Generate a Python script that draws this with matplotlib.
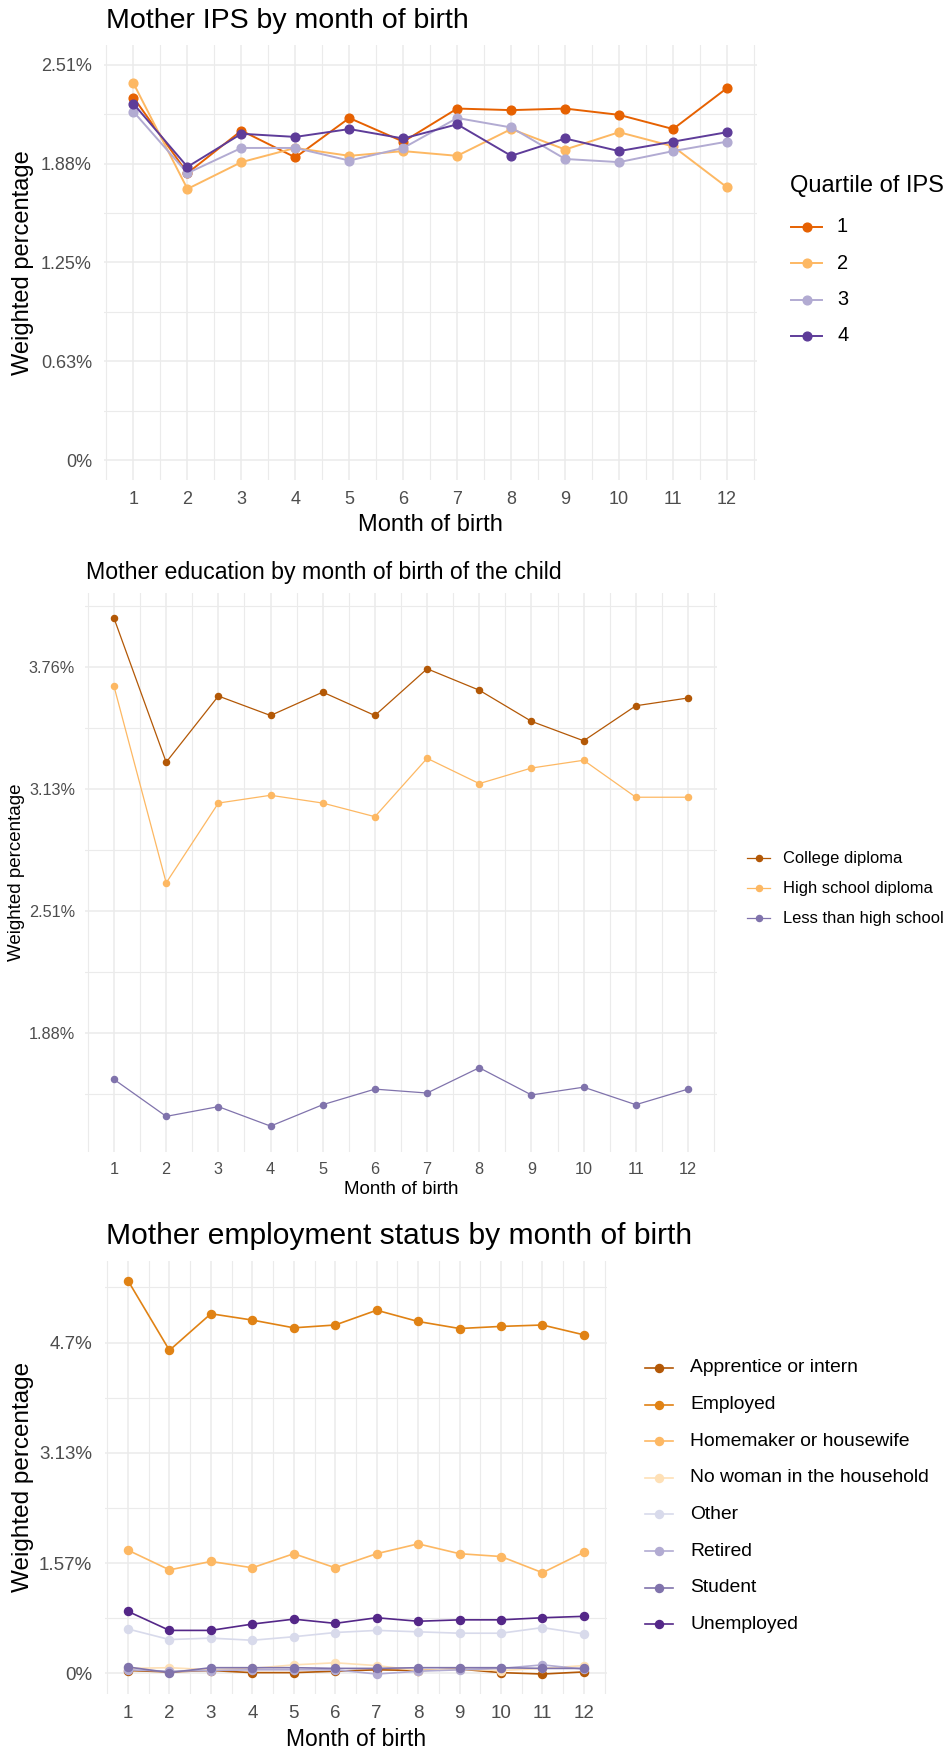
import matplotlib
matplotlib.use("Agg")
import matplotlib.pyplot as plt
from matplotlib.lines import Line2D

plt.rcParams['font.family'] = ['Liberation Sans', 'DejaVu Sans']

W, H = 944, 1751
DPI = 100

months = list(range(1, 13))
month_labels = [str(m) for m in months]

# ---- Mother IPS (quartiles) ----
ips_groups = ["1", "2", "3", "4"]
ips_colors = ["#E66101", "#FDB863", "#B2ABD2", "#5E3C99"]
ips_q1 = [2.30, 1.82, 2.09, 1.92, 2.17, 2.02, 2.23, 2.22, 2.23, 2.19, 2.10, 2.36]
ips_q2 = [2.39, 1.72, 1.89, 1.98, 1.93, 1.96, 1.93, 2.10, 1.97, 2.08, 1.99, 1.73]
ips_q3 = [2.21, 1.82, 1.98, 1.98, 1.90, 1.98, 2.17, 2.11, 1.91, 1.89, 1.96, 2.02]
ips_q4 = [2.26, 1.86, 2.07, 2.05, 2.10, 2.04, 2.13, 1.93, 2.04, 1.96, 2.02, 2.08]
ips_breaks = [0.0, 0.6268, 1.2536, 1.8804, 2.5072]
ips_break_labels = ["0%", "0.63%", "1.25%", "1.88%", "2.51%"]

# ---- Mother education ----
edu_groups = ["College diploma", "High school diploma", "Less than high school"]
edu_colors = ["#B35806", "#FDB863", "#8073AC"]
edu_college = [4.01, 3.27, 3.61, 3.51, 3.63, 3.51, 3.75, 3.64, 3.48, 3.38, 3.56, 3.60]
edu_high_school = [3.66, 2.65, 3.06, 3.10, 3.06, 2.99, 3.29, 3.16, 3.24, 3.28, 3.09, 3.09]
edu_less = [1.64, 1.45, 1.50, 1.40, 1.51, 1.59, 1.57, 1.70, 1.56, 1.60, 1.51, 1.59]
edu_breaks = [1.2536, 1.8804, 2.5072, 3.134, 3.7608]
edu_break_labels = ["1.25%", "1.88%", "2.51%", "3.13%", "3.76%"]

# ---- Mother employment status ----
emp_groups = ["Apprentice or intern", "Employed", "Homemaker or housewife",
              "No woman in the household", "Other", "Retired", "Student",
              "Unemployed"]
emp_colors = ["#B35806", "#E08214", "#FDB863", "#FEE0B6", "#D8DAEB",
              "#B2ABD2", "#8073AC", "#542788"]
emp_apprentice = [0.04, 0.02, 0.04, 0.01, 0.01, 0.03, 0.05, 0.04, 0.06, 0.01, -0.01, 0.02]
emp_employed = [5.58, 4.59, 5.11, 5.02, 4.91, 4.95, 5.16, 5.00, 4.90, 4.93, 4.95, 4.81]
emp_homemaker = [1.75, 1.47, 1.59, 1.50, 1.70, 1.50, 1.70, 1.84, 1.70, 1.66, 1.43, 1.72]
emp_no_woman = [0.07, 0.08, 0.05, 0.07, 0.12, 0.15, 0.11, 0.04, 0.06, 0.04, 0.07, 0.11]
emp_other = [0.63, 0.48, 0.50, 0.47, 0.52, 0.58, 0.61, 0.59, 0.57, 0.57, 0.65, 0.56]
emp_retired = [0.05, 0.03, 0.04, 0.05, 0.05, 0.05, -0.01, 0.03, 0.05, 0.07, 0.12, 0.06]
emp_student = [0.09, 0.01, 0.08, 0.08, 0.08, 0.07, 0.07, 0.08, 0.08, 0.08, 0.07, 0.07]
emp_unemployed = [0.88, 0.61, 0.61, 0.70, 0.77, 0.71, 0.79, 0.74, 0.76, 0.76, 0.79, 0.81]
emp_breaks = [0.0, 1.567, 3.134, 4.701]
emp_break_labels = ["0%", "1.57%", "3.13%", "4.7%"]

GRID = "#EBEBEB"
TICK_COLOR = "#4D4D4D"

fig = plt.figure(figsize=(W / DPI, H / DPI), dpi=DPI)


def fx(x):
    return x / W


def fy(y):
    return 1 - y / H


def px_rect(left, top, right, bottom):
    return [left / W, 1 - bottom / H, (right - left) / W, (bottom - top) / H]


def data_limits(series, frac=0.05):
    lo = min(min(s) for s in series)
    hi = max(max(s) for s in series)
    pad = (hi - lo) * frac
    return lo - pad, hi + pad


def style_axes(ax, ylim, breaks, labels, tick_fs, ypad_px, xpad_px):
    ax.set_xticks(months, month_labels)
    ax.set_xticks([m + 0.5 for m in range(0, 13)], minor=True)
    ax.set_yticks(breaks, labels)
    step = breaks[1] - breaks[0]
    ax.set_yticks([b - step / 2 for b in breaks] + [breaks[-1] + step / 2], minor=True)
    ax.set_xlim(0.45, 12.55)
    ax.set_ylim(*ylim)
    for s in ax.spines.values():
        s.set_visible(False)
    ax.grid(which="major", color=GRID, linewidth=1.1)
    ax.grid(which="minor", color=GRID, linewidth=0.8)
    ax.set_axisbelow(True)
    ax.tick_params(which="both", length=0)
    ax.tick_params(axis="y", pad=ypad_px * 0.72, labelsize=tick_fs, labelcolor=TICK_COLOR)
    ax.tick_params(axis="x", pad=xpad_px * 0.72, labelsize=tick_fs, labelcolor=TICK_COLOR)
    for lbl in ax.get_xticklabels():
        lbl.set_va("center")


def legend(entries, colors, x_line0, x_line1, x_text, y0, dy, fs, lw, ms):
    for i, (name, col) in enumerate(zip(entries, colors)):
        y = y0 + i * dy
        fig.add_artist(Line2D([fx(x_line0), fx(x_line1)], [fy(y), fy(y)],
                              transform=fig.transFigure, color=col, linewidth=lw))
        fig.add_artist(Line2D([fx((x_line0 + x_line1) / 2)], [fy(y)],
                              transform=fig.transFigure, color=col, marker="o",
                              markersize=ms, linestyle="none"))
        fig.text(fx(x_text), fy(y), name, ha="left", va="center", fontsize=fs,
                 color="black")


# ================= Mother IPS =================
ax1 = fig.add_axes(px_rect(103.8, 45.2, 756.7, 479.7))
for vals, col in zip([ips_q1, ips_q2, ips_q3, ips_q4], ips_colors):
    ax1.plot(months, vals, color=col, linewidth=1.4, marker="o", markersize=6.3)
style_axes(ax1, (-0.125, 2.632), ips_breaks, ips_break_labels, 13, 11.8, 20.3)
fig.text(fx(105.5), fy(21), "Mother IPS by month of birth", ha="left",
         va="center", fontsize=20.5)
fig.text(fx(23), fy(262.5), "Weighted percentage", rotation=90, ha="center",
         va="center", fontsize=17)
fig.text(fx(430), fy(525), "Month of birth", ha="center", va="center", fontsize=17)
fig.text(fx(790), fy(186), "Quartile of IPS", ha="left", va="center", fontsize=17)
legend(ips_groups, ips_colors, 791, 822, 837, 227, 36.3, 14.4, 1.4, 6.3)

# ================= Mother education =================
edu_series = [edu_college, edu_high_school, edu_less]
ax2 = fig.add_axes(px_rect(85.3, 592.8, 716.7, 1151.5))
for vals, col in zip(edu_series, edu_colors):
    ax2.plot(months, vals, color=col, linewidth=0.9, marker="o", markersize=4.4)
style_axes(ax2, data_limits(edu_series), edu_breaks, edu_break_labels, 11.7, 10.3, 17.5)
fig.text(fx(86), fy(572), "Mother education by month of birth of the child",
         ha="left", va="center", fontsize=16.7)
fig.text(fx(17), fy(872), "Weighted percentage", rotation=90, ha="center",
         va="center", fontsize=13.5)
fig.text(fx(401), fy(1189), "Month of birth", ha="center", va="center", fontsize=13.5)
legend(edu_groups, edu_colors, 747, 770, 783, 858, 30, 11.9, 0.9, 4.4)

# ================= Mother employment status =================
emp_series = [emp_apprentice, emp_employed, emp_homemaker, emp_no_woman,
              emp_other, emp_retired, emp_student, emp_unemployed]
ax3 = fig.add_axes(px_rect(105.2, 1261.0, 606.7, 1693.7))
for vals, col in zip(emp_series, emp_colors):
    ax3.plot(months, vals, color=col, linewidth=1.2, marker="o", markersize=5.8)
style_axes(ax3, data_limits(emp_series), emp_breaks, emp_break_labels, 13.5, 13.2, 19.3)
fig.text(fx(105.5), fy(1236), "Mother employment status by month of birth",
         ha="left", va="center", fontsize=21.6)
fig.text(fx(23), fy(1477), "Weighted percentage", rotation=90, ha="center",
         va="center", fontsize=17.5)
fig.text(fx(356), fy(1739), "Month of birth", ha="center", va="center", fontsize=16.5)
legend(emp_groups, emp_colors, 645, 673, 690, 1368, 36.6, 13.9, 1.2, 5.8)

fig.savefig("out.png", dpi=DPI, facecolor="white")
